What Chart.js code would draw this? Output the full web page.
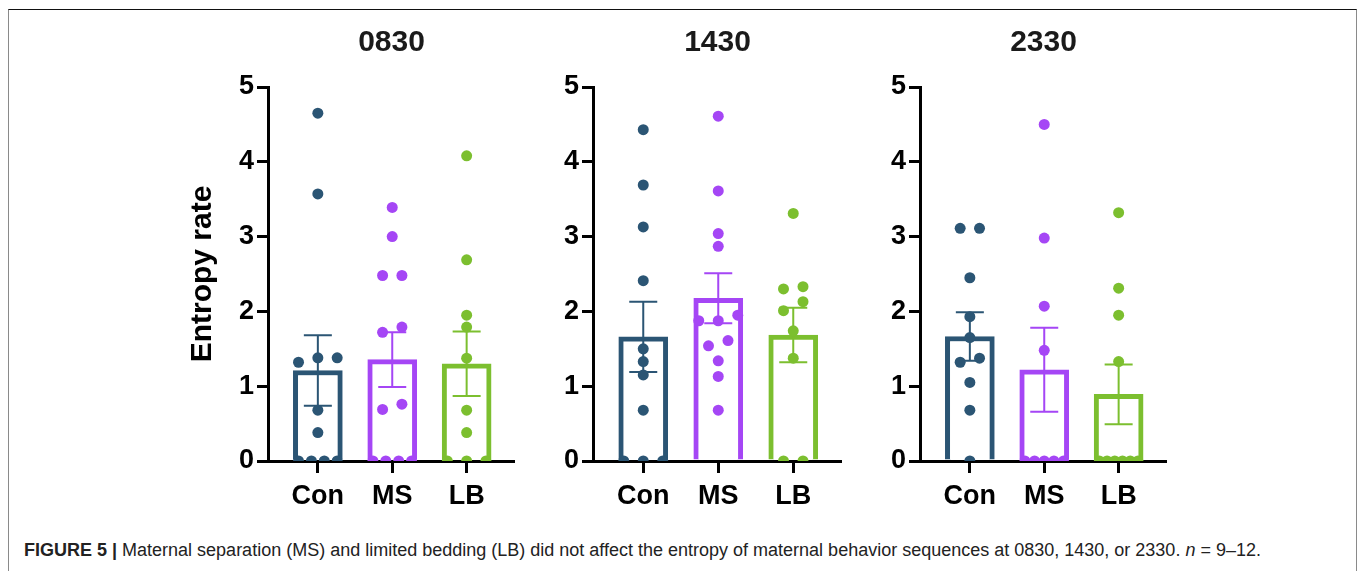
<!DOCTYPE html>
<html>
<head>
<meta charset="utf-8">
<script src="https://cdn.jsdelivr.net/npm/chart.js@4.4.1/dist/chart.umd.min.js"></script>
<style>
  html, body { margin: 0; padding: 0; background: #fff; }
  #page { position: relative; width: 1360px; height: 571px; overflow: hidden; }
  #frame { position: absolute; left: 8px; top: 9px; width: 1347px; height: 620px;
           border-top: 1px solid #111; border-left: 1px solid #8a8a8a; border-right: 1px solid #8a8a8a; }
  canvas { position: absolute; top: 0; }
  #caption { position: absolute; left: 24px; top: 540px; font-family: "Liberation Sans", Arial, sans-serif;
             font-size: 18px; color: #222; white-space: nowrap; }
  #caption b { font-weight: bold; }
</style>
</head>
<body>
<div id="page">
  <div id="frame"></div>
  <canvas id="c0830" width="330" height="530" style="left:185px"></canvas>
  <canvas id="c1430" width="312" height="530" style="left:530px"></canvas>
  <canvas id="c2330" width="310" height="530" style="left:857px"></canvas>
  <div id="caption"><b>FIGURE 5 |</b> Maternal separation (MS) and limited bedding (LB) did not affect the entropy of maternal behavior sequences at 0830, 1430, or 2330. <i>n</i> = 9–12.</div>
</div>
<script>
const groups = ['Con', 'MS', 'LB'];
const panelTitles = ['0830', '1430', '2330'];
const yTicks = [0, 1, 2, 3, 4, 5];
const colors = ['#2b5574', '#a546f5', '#7cbf2f'];

// individual animals
const con0830 = [4.65, 3.57, 1.38, 1.32, 1.38, 0.68, 0.38, 0, 0, 0, 0];
const ms0830 = [3.39, 3.0, 2.48, 2.48, 1.79, 1.72, 0.76, 0.69, 0, 0, 0, 0];
const lb0830 = [4.08, 2.69, 1.95, 1.79, 1.375, 0.68, 0.38, 0, 0, 0];
const con1430 = [4.43, 3.69, 3.13, 2.41, 1.50, 1.33, 1.15, 0.68, 0, 0, 0];
const ms1430 = [4.61, 3.61, 3.04, 2.87, 1.95, 1.875, 1.875, 1.61, 1.54, 1.34, 1.13, 0.68];
const lb1430 = [3.31, 2.33, 2.30, 2.13, 2.01, 1.74, 1.375, 0, 0];
const con2330 = [3.11, 3.11, 2.45, 1.93, 1.65, 1.375, 1.32, 1.05, 0.68, 0];
const ms2330 = [4.50, 2.98, 2.07, 1.48, 0, 0, 0, 0, 0];
const lb2330 = [3.32, 2.31, 1.95, 1.33, 0, 0, 0, 0, 0, 0];

// bar heights (mean) and error bars (SEM)
const means0830 = [1.21, 1.355, 1.30];
const sem0830 = [0.47, 0.365, 0.43];
const means1430 = [1.66, 2.175, 1.685];
const sem1430 = [0.47, 0.335, 0.365];
const means2330 = [1.665, 1.22, 0.89];
const sem2330 = [0.325, 0.56, 0.40];

const FONT = '"Liberation Sans", Arial, sans-serif';
const DOT_STEP = 0.26;   // x units between neighbouring dots in a row
const MAX_SPAN = 0.52;   // widest a row of dots may get

// simple column scatter: close values share a row, centred on the group
function swarm(values, center) {
  const sorted = values.slice().sort((a, b) => a - b);
  const rows = [];
  sorted.forEach(v => {
    const row = rows[rows.length - 1];
    if (row && v - row[0] < 0.15) row.push(v); else rows.push([v]);
  });
  const pts = [];
  rows.forEach(row => {
    const n = row.length;
    const step = n > 1 ? Math.min(DOT_STEP, MAX_SPAN / (n - 1)) : 0;
    row.forEach((v, i) => pts.push({ x: center + (i - (n - 1) / 2) * step, y: v }));
  });
  return pts;
}

const errorBars = {
  id: 'errorBars',
  afterDatasetDraw(chart, args, opts) {
    if (args.index !== 0) return;
    const { ctx, scales: { x, y } } = chart;
    ctx.save();
    ctx.lineWidth = 2;
    opts.means.forEach((m, i) => {
      const px = x.getPixelForValue(i + 1);
      const top = y.getPixelForValue(m + opts.sems[i]);
      const bot = y.getPixelForValue(m - opts.sems[i]);
      ctx.strokeStyle = colors[i];
      ctx.beginPath();
      ctx.moveTo(px, top); ctx.lineTo(px, bot);
      ctx.moveTo(px - 14, top); ctx.lineTo(px + 14, top);
      ctx.moveTo(px - 14, bot); ctx.lineTo(px + 14, bot);
      ctx.stroke();
    });
    ctx.restore();
  }
};

const panelTitle = {
  id: 'panelTitle',
  afterDraw(chart, args, opts) {
    const { ctx, chartArea } = chart;
    ctx.save();
    ctx.font = 'bold 30px ' + FONT;
    ctx.fillStyle = '#1a1a1a';
    ctx.textAlign = 'center';
    ctx.textBaseline = 'middle';
    ctx.fillText(opts.text, (chartArea.left + chartArea.right) / 2, 43);
    ctx.restore();
  }
};

function makePanel(canvasId, title, series, means, sems, yWidth, showYTitle) {
  const datasets = [{
    type: 'bar',
    data: means.map((m, i) => ({ x: i + 1, y: m })),
    backgroundColor: '#ffffff',
    borderColor: colors,
    borderWidth: 5,
    borderSkipped: 'start',
    barThickness: 49,
    order: 2
  }];
  series.forEach((vals, i) => {
    datasets.push({
      type: 'scatter',
      data: swarm(vals, i + 1),
      backgroundColor: colors[i],
      borderWidth: 0,
      pointRadius: 5.5,
      order: 1
    });
  });

  new Chart(document.getElementById(canvasId), {
    type: 'bar',
    data: { datasets: datasets },
    options: {
      responsive: false,
      animation: false,
      layout: { padding: { top: 87, left: 0, right: 0, bottom: 0 }, autoPadding: false },
      plugins: {
        legend: { display: false },
        tooltip: { enabled: false },
        errorBars: { means: means, sems: sems },
        panelTitle: { text: title }
      },
      scales: {
        x: {
          type: 'linear',
          min: 0.33,
          max: 3.65,
          offset: false,
          border: { display: true, color: '#000', width: 3 },
          grid: { display: true, offset: false, drawOnChartArea: false, drawTicks: true, tickLength: 12, color: '#000', lineWidth: 3 },
          ticks: {
            color: '#000',
            padding: 7,
            maxRotation: 0,
            font: { family: FONT, size: 27, weight: 'bold' },
            callback: v => groups[v - 1]
          },
          afterBuildTicks: s => { s.ticks = groups.map((g, i) => ({ value: i + 1 })); },
          afterFit: s => { s.height = 69; }
        },
        y: {
          min: 0,
          max: 5,
          border: { display: true, color: '#000', width: 3 },
          grid: { display: true, drawOnChartArea: false, drawTicks: true, tickLength: 11, color: '#000', lineWidth: 3 },
          ticks: {
            color: '#000',
            padding: 3,
            font: { family: FONT, size: 27, weight: 'bold' }
          },
          afterBuildTicks: s => { s.ticks = yTicks.map(v => ({ value: v })); },
          title: {
            display: showYTitle,
            text: 'Entropy rate',
            color: '#000',
            padding: { top: 0, bottom: 0 },
            font: { family: FONT, size: 30, weight: 'bold' }
          },
          afterFit: s => { s.width = yWidth; }
        }
      }
    },
    plugins: [errorBars, panelTitle]
  });
}

makePanel('c0830', panelTitles[0], [con0830, ms0830, lb0830], means0830, sem0830, 83, true);
makePanel('c1430', panelTitles[1], [con1430, ms1430, lb1430], means1430, sem1430, 63, false);
makePanel('c2330', panelTitles[2], [con2330, ms2330, lb2330], means2330, sem2330, 63, false);
</script>
</body>
</html>
